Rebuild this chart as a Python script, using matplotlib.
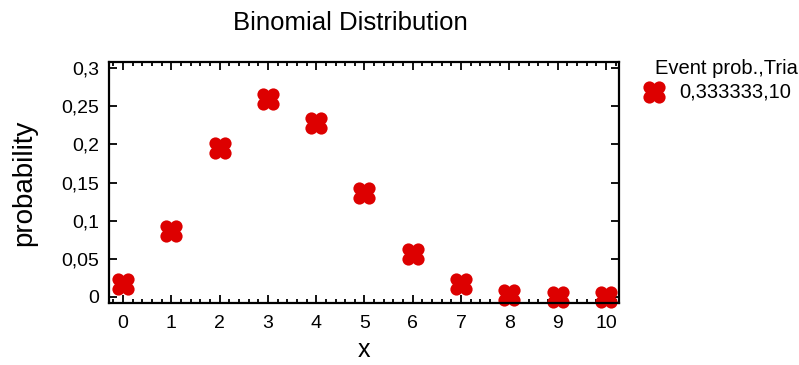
import matplotlib
matplotlib.use('Agg')
import matplotlib.pyplot as plt
import matplotlib.ticker as mticker
from matplotlib.path import Path

plt.rcParams['font.family'] = ['Liberation Sans', 'DejaVu Sans']

# data (n=10 trials, p=0.333333)
x_vals = [0, 1, 2, 3, 4, 5, 6, 7, 8, 9, 10]
probs = [0.0173, 0.0867, 0.1951, 0.2601, 0.2276, 0.1366, 0.0569,
         0.0163, 0.0030, 0.0003, 0.0000]
y_ticks = [0, 0.05, 0.1, 0.15, 0.2, 0.25, 0.3]
legend_title = 'Event prob.,Tria'   # cut short at the figure edge in the original
series_label = '0,333333,10'

RED = '#dd0000'

# four-lobed blob marker (four circles plus a filled centre)
circ = Path.unit_circle()
lobes = []
for dx, dy, r in [(-4.6, -4.6, 5.8), (4.6, -4.6, 5.8), (-4.6, 4.6, 5.8),
                  (4.6, 4.6, 5.8), (0, 0, 6.8)]:
    lobes.append(Path(circ.vertices * r + [dx, dy], circ.codes))
blob = Path.make_compound_path(*lobes)

fig = plt.figure(figsize=(7.99, 3.65), dpi=100)
ax = fig.add_axes([109 / 799, 1 - 303 / 365, 510 / 799, 241 / 365])

ax.plot(x_vals, probs, linestyle='none', marker=blob, markersize=16,
        markeredgewidth=0, color=RED, clip_on=False)

ax.set_xlim(-0.29, 10.27)
ax.set_ylim(-0.008, 0.308)
ax.set_xticks(x_vals)
ax.xaxis.set_minor_locator(mticker.MultipleLocator(0.2))
ax.set_yticks(y_ticks)
ax.yaxis.set_major_formatter(mticker.FuncFormatter(
    lambda v, p: ('%g' % round(v, 3)).replace('.', ',')))

ax.tick_params(which='both', direction='in', top=True, right=True,
               width=1.3, labelsize=14, colors='black')
ax.tick_params(which='major', length=6)
ax.tick_params(axis='x', which='major', pad=9)
ax.tick_params(axis='y', which='major', pad=7)
ax.tick_params(which='minor', length=3)
ax.tick_params(axis='y', which='minor', left=False, right=False)
for s in ax.spines.values():
    s.set_linewidth(1.6)

ax.set_xlabel('x', fontsize=18)
ax.xaxis.set_label_coords(0.5, -(338 - 303) / 241)
ax.set_ylabel('probability', fontsize=20)
ax.yaxis.set_label_coords(-(109 - 37) / 510, 0.5)
fig.text(350 / 799, 1 - 23 / 365, 'Binomial Distribution',
         ha='center', va='center', fontsize=18.5)

# legend drawn by hand
fig.text(655 / 799, 1 - 68 / 365, legend_title, ha='left', va='center',
         fontsize=14.5)
fig.text(679 / 799, 1 - 92 / 365, series_label, ha='left', va='center',
         fontsize=14.5)
lax = fig.add_axes([0, 0, 1, 1], facecolor='none')
lax.set_xlim(0, 799)
lax.set_ylim(365, 0)
lax.axis('off')
lax.plot([654], [92], linestyle='none', marker=blob, markersize=16,
         markeredgewidth=0, color=RED)

fig.savefig('out.png', dpi=100)
